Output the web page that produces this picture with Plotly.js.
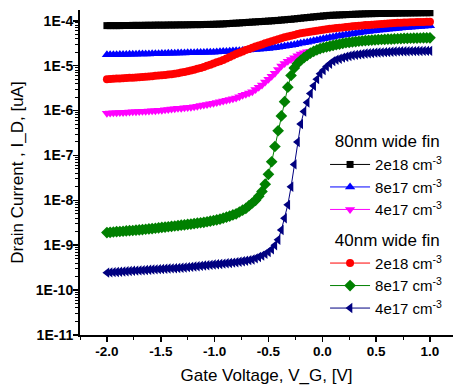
<!DOCTYPE html>
<html>
<head>
<meta charset="utf-8">
<script src="https://cdn.plot.ly/plotly-3.0.1.min.js"></script>
<style>html,body{margin:0;padding:0;background:#fff;}#chart{width:455px;height:391px;}</style>
</head>
<body>
<div id="chart"></div>
<script>
// Gate voltage sweep (V)
const gateVoltage = [-2.00,-1.97,-1.94,-1.91,-1.88,-1.85,-1.82,-1.79,-1.76,-1.73,
-1.70,-1.67,-1.64,-1.61,-1.58,-1.55,-1.52,-1.49,-1.46,-1.43,
-1.40,-1.37,-1.34,-1.31,-1.28,-1.25,-1.22,-1.19,-1.16,-1.13,
-1.10,-1.07,-1.04,-1.01,-0.98,-0.95,-0.92,-0.89,-0.86,-0.83,
-0.80,-0.77,-0.74,-0.71,-0.68,-0.65,-0.62,-0.59,-0.56,-0.53,
-0.50,-0.47,-0.44,-0.41,-0.38,-0.35,-0.32,-0.29,-0.26,-0.23,
-0.20,-0.17,-0.14,-0.11,-0.08,-0.05,-0.02,0.01,0.04,0.07,
0.10,0.13,0.16,0.19,0.22,0.25,0.28,0.31,0.34,0.37,
0.40,0.43,0.46,0.49,0.52,0.55,0.58,0.61,0.64,0.67,
0.70,0.73,0.76,0.79,0.82,0.85,0.88,0.91,0.94,0.97,
1.00];

// 80nm wide fin
const fin80_2e18 = [7.8e-5,7.8e-5,7.8e-5,7.8e-5,7.8e-5,7.85e-5,7.85e-5,7.85e-5,7.9e-5,7.9e-5,
7.9e-5,7.9e-5,7.95e-5,7.95e-5,7.95e-5,8.0e-5,8.0e-5,8.0e-5,8.0e-5,8.05e-5,
8.05e-5,8.05e-5,8.1e-5,8.1e-5,8.1e-5,8.15e-5,8.15e-5,8.2e-5,8.2e-5,8.2e-5,
8.25e-5,8.3e-5,8.3e-5,8.35e-5,8.4e-5,8.45e-5,8.5e-5,8.6e-5,8.7e-5,8.8e-5,
8.85e-5,8.95e-5,9.05e-5,9.15e-5,9.25e-5,9.35e-5,9.45e-5,9.55e-5,9.65e-5,9.75e-5,
9.85e-5,9.95e-5,1.01e-4,1.02e-4,1.04e-4,1.05e-4,1.07e-4,1.08e-4,1.10e-4,1.12e-4,
1.14e-4,1.16e-4,1.18e-4,1.20e-4,1.22e-4,1.24e-4,1.26e-4,1.28e-4,1.30e-4,1.32e-4,
1.33e-4,1.34e-4,1.35e-4,1.36e-4,1.37e-4,1.38e-4,1.39e-4,1.40e-4,1.41e-4,1.42e-4,
1.43e-4,1.435e-4,1.44e-4,1.445e-4,1.45e-4,1.455e-4,1.46e-4,1.465e-4,1.47e-4,1.475e-4,
1.48e-4,1.485e-4,1.49e-4,1.49e-4,1.495e-4,1.5e-4,1.5e-4,1.505e-4,1.51e-4,1.51e-4,
1.51e-4];

const fin80_8e17 = [1.74e-5,1.75e-5,1.75e-5,1.76e-5,1.77e-5,1.77e-5,1.78e-5,1.79e-5,1.79e-5,1.80e-5,
1.81e-5,1.81e-5,1.82e-5,1.83e-5,1.84e-5,1.84e-5,1.85e-5,1.86e-5,1.87e-5,1.88e-5,
1.89e-5,1.90e-5,1.91e-5,1.91e-5,1.92e-5,1.93e-5,1.94e-5,1.95e-5,1.96e-5,1.96e-5,
1.97e-5,1.98e-5,1.99e-5,2.00e-5,2.02e-5,2.04e-5,2.06e-5,2.08e-5,2.10e-5,2.12e-5,
2.14e-5,2.16e-5,2.17e-5,2.19e-5,2.22e-5,2.25e-5,2.28e-5,2.31e-5,2.34e-5,2.37e-5,
2.40e-5,2.46e-5,2.52e-5,2.58e-5,2.65e-5,2.72e-5,2.79e-5,2.85e-5,2.94e-5,3.04e-5,
3.14e-5,3.24e-5,3.34e-5,3.44e-5,3.57e-5,3.70e-5,3.83e-5,3.96e-5,4.10e-5,4.23e-5,
4.37e-5,4.50e-5,4.64e-5,4.77e-5,4.90e-5,5.03e-5,5.16e-5,5.28e-5,5.42e-5,5.55e-5,
5.67e-5,5.79e-5,5.90e-5,6.00e-5,6.12e-5,6.23e-5,6.34e-5,6.45e-5,6.56e-5,6.66e-5,
6.76e-5,6.86e-5,6.96e-5,7.06e-5,7.16e-5,7.26e-5,7.36e-5,7.46e-5,7.56e-5,7.66e-5,
7.76e-5];

const fin80_4e17 = [8.7e-7,8.8e-7,8.9e-7,8.95e-7,9.0e-7,9.1e-7,9.2e-7,9.3e-7,9.35e-7,9.4e-7,
9.5e-7,9.6e-7,9.7e-7,9.75e-7,9.85e-7,9.95e-7,1.01e-6,1.02e-6,1.04e-6,1.06e-6,
1.08e-6,1.1e-6,1.12e-6,1.13e-6,1.15e-6,1.17e-6,1.19e-6,1.21e-6,1.25e-6,1.29e-6,
1.33e-6,1.37e-6,1.41e-6,1.45e-6,1.51e-6,1.57e-6,1.64e-6,1.7e-6,1.77e-6,1.84e-6,
1.91e-6,2.04e-6,2.18e-6,2.32e-6,2.47e-6,2.63e-6,2.95e-6,3.3e-6,3.7e-6,4.3e-6,
5.0e-6,5.8e-6,6.8e-6,8.2e-6,9.8e-6,1.12e-5,1.25e-5,1.37e-5,1.51e-5,1.66e-5,
1.82e-5,1.93e-5,2.03e-5,2.1e-5,2.15e-5,2.2e-5,2.3e-5,2.4e-5,2.5e-5,2.6e-5,
2.7e-5,2.8e-5,2.9e-5,3.0e-5,3.1e-5,3.17e-5,3.23e-5,3.3e-5,3.36e-5,3.42e-5,
3.48e-5,3.52e-5,3.56e-5,3.6e-5,3.64e-5,3.67e-5,3.7e-5,3.73e-5,3.76e-5,3.79e-5,
3.82e-5,3.85e-5,3.88e-5,3.9e-5,3.92e-5,3.93e-5,3.95e-5,3.96e-5,3.98e-5,3.99e-5,
4.0e-5];

// 40nm wide fin
const fin40_2e18 = [5.00e-6,5.05e-6,5.10e-6,5.15e-6,5.20e-6,5.25e-6,5.30e-6,5.35e-6,5.40e-6,5.45e-6,
5.50e-6,5.58e-6,5.66e-6,5.75e-6,5.84e-6,5.93e-6,6.03e-6,6.13e-6,6.23e-6,6.34e-6,
6.46e-6,6.6e-6,6.8e-6,7.0e-6,7.25e-6,7.5e-6,7.8e-6,8.1e-6,8.5e-6,8.9e-6,
9.33e-6,9.9e-6,1.05e-5,1.12e-5,1.19e-5,1.26e-5,1.34e-5,1.44e-5,1.56e-5,1.69e-5,
1.82e-5,1.95e-5,2.08e-5,2.22e-5,2.36e-5,2.51e-5,2.66e-5,2.82e-5,2.98e-5,3.14e-5,
3.31e-5,3.5e-5,3.69e-5,3.88e-5,4.07e-5,4.27e-5,4.46e-5,4.65e-5,4.85e-5,5.05e-5,
5.25e-5,5.4e-5,5.55e-5,5.7e-5,5.85e-5,6.0e-5,6.15e-5,6.3e-5,6.45e-5,6.6e-5,
6.75e-5,6.9e-5,7.0e-5,7.1e-5,7.25e-5,7.4e-5,7.52e-5,7.64e-5,7.76e-5,7.88e-5,
8.0e-5,8.1e-5,8.2e-5,8.3e-5,8.4e-5,8.5e-5,8.6e-5,8.7e-5,8.8e-5,8.9e-5,
8.98e-5,9.05e-5,9.12e-5,9.18e-5,9.24e-5,9.3e-5,9.35e-5,9.4e-5,9.45e-5,9.5e-5,
9.55e-5];

const fin40_8e17 = [1.91e-9,1.94e-9,1.97e-9,2.0e-9,2.02e-9,2.05e-9,2.08e-9,2.11e-9,2.13e-9,2.16e-9,
2.19e-9,2.23e-9,2.27e-9,2.31e-9,2.35e-9,2.39e-9,2.44e-9,2.49e-9,2.54e-9,2.58e-9,
2.63e-9,2.68e-9,2.73e-9,2.79e-9,2.84e-9,2.9e-9,2.96e-9,3.03e-9,3.1e-9,3.17e-9,
3.24e-9,3.33e-9,3.43e-9,3.55e-9,3.67e-9,3.8e-9,4.0e-9,4.22e-9,4.46e-9,4.72e-9,
5.01e-9,5.5e-9,6.03e-9,6.61e-9,7.59e-9,8.71e-9,1.0e-8,1.23e-8,1.58e-8,2.29e-8,
3.8e-8,7.24e-8,1.58e-7,3.55e-7,7.59e-7,1.58e-6,3.31e-6,6.03e-6,8.91e-6,1.12e-5,
1.32e-5,1.51e-5,1.7e-5,1.91e-5,2.09e-5,2.24e-5,2.4e-5,2.51e-5,2.62e-5,2.72e-5,
2.82e-5,2.93e-5,3.03e-5,3.13e-5,3.24e-5,3.3e-5,3.37e-5,3.44e-5,3.5e-5,3.57e-5,
3.63e-5,3.67e-5,3.71e-5,3.75e-5,3.79e-5,3.83e-5,3.86e-5,3.89e-5,3.92e-5,3.95e-5,
3.98e-5,4.01e-5,4.04e-5,4.07e-5,4.08e-5,4.1e-5,4.11e-5,4.13e-5,4.14e-5,4.16e-5,
4.17e-5];

const fin40_4e17 = [2.45e-10,2.48e-10,2.51e-10,2.54e-10,2.57e-10,2.6e-10,2.63e-10,2.66e-10,2.69e-10,2.72e-10,
2.75e-10,2.78e-10,2.81e-10,2.84e-10,2.87e-10,2.9e-10,2.93e-10,2.96e-10,2.99e-10,3.02e-10,
3.05e-10,3.08e-10,3.11e-10,3.15e-10,3.2e-10,3.25e-10,3.3e-10,3.35e-10,3.41e-10,3.47e-10,
3.53e-10,3.59e-10,3.65e-10,3.71e-10,3.77e-10,3.83e-10,3.89e-10,3.96e-10,4.03e-10,4.1e-10,
4.17e-10,4.28e-10,4.4e-10,4.52e-10,4.65e-10,4.79e-10,5.1e-10,5.45e-10,5.85e-10,6.4e-10,
7.08e-10,8.13e-10,1.0e-9,1.32e-9,2.19e-9,3.98e-9,7.94e-9,2.0e-8,6.31e-8,2.0e-7,
5.01e-7,9.55e-7,1.51e-6,2.4e-6,3.55e-6,5.01e-6,6.61e-6,7.94e-6,9.55e-6,1.1e-5,
1.26e-5,1.35e-5,1.43e-5,1.51e-5,1.58e-5,1.64e-5,1.7e-5,1.74e-5,1.78e-5,1.82e-5,
1.86e-5,1.89e-5,1.92e-5,1.95e-5,1.97e-5,1.98e-5,2.0e-5,2.02e-5,2.04e-5,2.06e-5,
2.08e-5,2.09e-5,2.1e-5,2.1e-5,2.11e-5,2.11e-5,2.12e-5,2.12e-5,2.13e-5,2.13e-5,
2.14e-5];

const seriesLabels = ['2e18 cm<sup>-3</sup>', '8e17 cm<sup>-3</sup>', '4e17 cm<sup>-3</sup>'];
const groupTitles = ['80nm wide fin', '40nm wide fin'];
const xTickVals = [-2.0, -1.5, -1.0, -0.5, 0.0, 0.5, 1.0];
const xTickText = ['-2.0', '-1.5', '-1.0', '-0.5', '0.0', '0.5', '1.0'];
const yTickVals = [1e-11, 1e-10, 1e-9, 1e-8, 1e-7, 1e-6, 1e-5, 1e-4];
const yTickText = ['1E-11', '1E-10', '1E-9', '1E-8', '1E-7', '1E-6', '1E-5', '1E-4'];

const FONT = 'Arial, "Liberation Sans", sans-serif';

function mk(y, name, group, color, symbol, size, title) {
  const t = {
    x: gateVoltage, y: y, name: name, type: 'scatter', mode: 'lines+markers',
    legendgroup: group,
    line: {color: color, width: 1},
    marker: {color: color, symbol: symbol, size: size, line: {width: 0}},
    cliponaxis: true
  };
  if (title) t.legendgrouptitle = {text: '\u00a0' + title, font: {size: 17, color: '#000', family: FONT}};
  return t;
}

const traces = [
  mk(fin80_2e18, seriesLabels[0], 'g80', '#000000', 'square', 7, groupTitles[0]),
  mk(fin80_8e17, seriesLabels[1], 'g80', '#0000FF', 'triangle-up', 9),
  mk(fin80_4e17, seriesLabels[2], 'g80', '#FF00FF', 'triangle-down', 9),
  mk(fin40_2e18, seriesLabels[0], 'g40', '#FF0000', 'circle', 8, groupTitles[1]),
  mk(fin40_8e17, seriesLabels[1], 'g40', '#008000', 'diamond', 9),
  mk(fin40_4e17, seriesLabels[2], 'g40', '#000080', 'triangle-left', 9)
];

// minor log tick positions (2..9 per decade)
const minorY = [];
for (let e = -11; e < -3; e++) for (let m = 2; m <= 9; m++) minorY.push(m * Math.pow(10, e));

const layout = {
  width: 455, height: 391,
  margin: {l: 80, r: 2, t: 10, b: 56, pad: 0},
  paper_bgcolor: '#fff', plot_bgcolor: '#fff',
  font: {family: FONT, color: '#000'},
  showlegend: true,
  legend: {
    x: 0.657, y: 0.652, xanchor: 'left', yanchor: 'top',
    bgcolor: 'rgba(0,0,0,0)', borderwidth: 0,
    font: {size: 15, family: FONT, color: '#000'},
    traceorder: 'grouped', tracegroupgap: 6, itemwidth: 40
  },
  xaxis: {
    range: [-2.25, 1.214],
    tickmode: 'array', tickvals: xTickVals, ticktext: xTickText,
    ticks: 'outside', ticklen: 5, tickwidth: 1.5, tickcolor: '#000',
    minor: {ticks: 'outside', ticklen: 3, tickwidth: 1, tickcolor: '#000', dtick: 0.25, tick0: 0},
    showline: true, linecolor: '#000', linewidth: 2,
    showgrid: false, zeroline: false,
    ticklabelstandoff: -2,
    tickfont: {size: 13.5, family: FONT, weight: 'bold', color: '#000'},
    title: {text: 'Gate Voltage, V_G, [V]', standoff: 11, font: {size: 17, family: FONT, color: '#000'}}
  },
  yaxis: {
    type: 'log', range: [-11, -3.76],
    tickmode: 'array', tickvals: yTickVals, ticktext: yTickText,
    ticks: 'outside', ticklen: 5, tickwidth: 1.5, tickcolor: '#000',
    minor: {tickmode: 'array', tickvals: minorY, ticks: 'outside', ticklen: 3, tickwidth: 1, tickcolor: '#000'},
    showline: true, linecolor: '#000', linewidth: 2,
    showgrid: false, zeroline: false,
    ticklabelstandoff: -3,
    tickfont: {size: 14, family: FONT, weight: 'bold', color: '#000'},
    title: {text: 'Drain Current , I_D, [uA]', standoff: 8, font: {size: 17, family: FONT, color: '#000'}}
  }
};

Plotly.newPlot('chart', traces, layout, {staticPlot: true, displayModeBar: false});
</script>
</body>
</html>
